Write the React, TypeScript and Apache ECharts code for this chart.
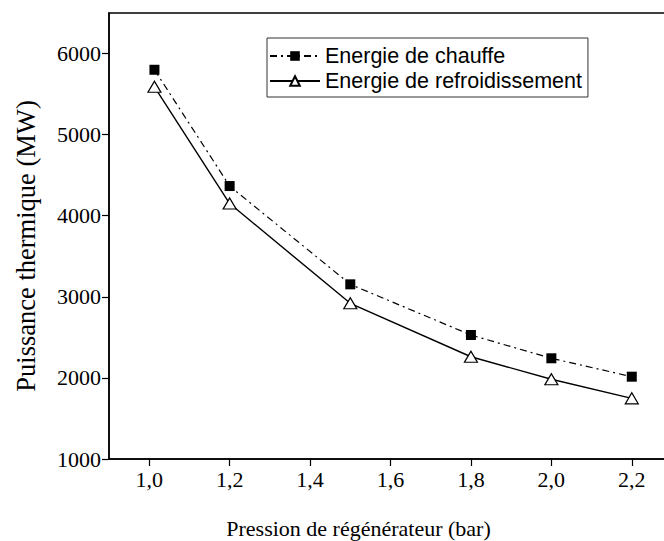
import React, { useEffect, useRef } from "react";
import * as echarts from "echarts";

const pressions = [1.013, 1.2, 1.5, 1.8, 2.0, 2.2];
const energieChauffe = [5800, 4366, 3154, 2529, 2242, 2015];
const energieRefroidissement = [5590, 4150, 2920, 2261, 1983, 1748];
const xTicks = [1.0, 1.2, 1.4, 1.6, 1.8, 2.0, 2.2];
const yTicks = [1000, 2000, 3000, 4000, 5000, 6000];

const SERIF = "Liberation Serif";
const SANS = "Liberation Sans";

export default function App() {
  const ref = useRef<HTMLDivElement>(null);
  useEffect(() => {
    if (!ref.current) return;
    const chart = echarts.init(ref.current, undefined, { renderer: "svg" });
    chart.setOption({
      animation: false,
      backgroundColor: "#fff",
      textStyle: { fontFamily: SERIF },
      grid: {
        left: 109,
        top: 13,
        right: -8,
        bottom: 82,
        show: true,
        borderColor: "#000",
        borderWidth: 1.5,
        outerBoundsMode: "none",
        containLabel: false,
      },
      legend: {
        orient: "vertical",
        left: 267,
        top: 38,
        itemWidth: 50,
        itemHeight: 12,
        itemGap: 3,
        padding: [7, 6, 5, 2],
        borderColor: "#333",
        borderWidth: 1,
        textStyle: { fontFamily: SANS, fontSize: 21.5, color: "#000" },
        data: ["Energie de chauffe", "Energie de refroidissement"],
      },
      xAxis: {
        type: "value",
        min: 0.9,
        max: 2.3,
        name: "Pression de régénérateur (bar)",
        nameLocation: "middle",
        nameGap: 58,
        nameTextStyle: {
          fontFamily: SERIF,
          fontSize: 22,
          color: "#000",
          padding: [0, 64, 0, 0],
        },
        axisLine: { show: true, lineStyle: { color: "#000", width: 1.5 } },
        axisTick: {
          show: true,
          inside: false,
          length: 7,
          lineStyle: { color: "#000", width: 1.2 },
          customValues: xTicks,
        },
        axisLabel: {
          fontFamily: SERIF,
          fontSize: 22,
          color: "#000",
          margin: 9,
          customValues: xTicks,
          formatter: (v: number) => v.toFixed(1).replace(".", ","),
        },
        splitLine: { show: false },
      },
      yAxis: {
        type: "value",
        min: 1000,
        max: 6500,
        name: "Puissance thermique (MW)",
        nameLocation: "middle",
        nameGap: 70,
        nameTextStyle: {
          fontFamily: SERIF,
          fontSize: 26.5,
          color: "#000",
          padding: [0, 20, 0, 0],
        },
        axisLine: { show: true, lineStyle: { color: "#000", width: 1.5 } },
        axisTick: {
          show: true,
          inside: false,
          length: 7,
          lineStyle: { color: "#000", width: 1.2 },
          customValues: yTicks,
        },
        axisLabel: {
          fontFamily: SERIF,
          fontSize: 22,
          color: "#000",
          margin: 8,
          customValues: yTicks,
          formatter: (v: number) => String(v),
        },
        splitLine: { show: false },
      },
      series: [
        {
          name: "Energie de chauffe",
          type: "line",
          data: pressions.map((p, i) => [p, energieChauffe[i]]),
          symbol: "rect",
          symbolSize: 10,
          itemStyle: { color: "#000" },
          lineStyle: { color: "#000", width: 1.2, type: [7, 4, 2, 4] },
        },
        {
          name: "Energie de refroidissement",
          type: "line",
          data: pressions.map((p, i) => [p, energieRefroidissement[i]]),
          symbol: "triangle",
          symbolSize: [13, 11],
          itemStyle: { color: "#fff", borderColor: "#000", borderWidth: 1.2 },
          lineStyle: { color: "#000", width: 1.4, type: "solid" },
        },
      ],
    });
    return () => chart.dispose();
  }, []);
  return (
    <div
      ref={ref}
      style={{ position: "fixed", left: 0, top: 0, width: 664, height: 541 }}
    />
  );
}
